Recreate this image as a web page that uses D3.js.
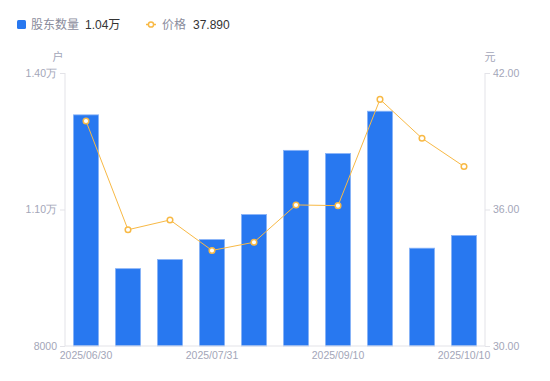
<!DOCTYPE html>
<html><head><meta charset="utf-8">
<script src="https://cdn.jsdelivr.net/npm/d3@7/dist/d3.min.js"></script>
<style>body{margin:0;background:#fff;}svg{display:block;font-family:"Liberation Sans",Arial,"Noto Sans CJK SC",sans-serif;}</style>
</head><body>
<script>
const categories = ["2025/06/30","2025/07/10","2025/07/20","2025/07/31","2025/08/20","2025/08/31","2025/09/10","2025/09/20","2025/09/30","2025/10/10"];
const holders = [13080, 9700, 9900, 10340, 10890, 12300, 12230, 13160, 10150, 10430];
const prices = [39.89, 35.11, 35.54, 34.20, 34.56, 36.20, 36.17, 40.84, 39.13, 37.89];
const xTickLabels = ["2025/06/30","2025/07/31","2025/09/10","2025/10/10"];
const leftTicks = [8000, 11000, 14000];
const rightTicks = [30, 36, 42];

const W = 550, H = 381;
const m = {l:65, r:65, t:73, b:35};
const svg = d3.select("body").append("svg").attr("width", W).attr("height", H);

const x = d3.scaleBand().domain(categories).range([m.l, W - m.r]).paddingInner(0.4).paddingOuter(0.2);
const yL = d3.scaleLinear().domain([8000, 14000]).range([H - m.b, m.t]);
const yR = d3.scaleLinear().domain([30, 42]).range([H - m.b, m.t]);

const axisColor = "#e3e3e8", textColor = "#a3a6b8";
const fmtL = v => v >= 10000 ? (v/10000).toFixed(2) + "万" : String(v);

// bars
svg.append("g").selectAll("rect").data(holders).join("rect")
  .attr("x", (d,i) => x(categories[i]))
  .attr("y", d => yL(d))
  .attr("width", x.bandwidth())
  .attr("height", d => yL(8000) - yL(d))
  .attr("fill", "#2878f0")
  .attr("stroke", "#8ab4f8").attr("stroke-width", 0.8);

// left axis
const gL = svg.append("g").attr("transform", `translate(${m.l},0)`)
  .call(d3.axisLeft(yL).tickValues(leftTicks).tickFormat(fmtL).tickSize(5).tickPadding(3));
// right axis
const gR = svg.append("g").attr("transform", `translate(${W - m.r},0)`)
  .call(d3.axisRight(yR).tickValues(rightTicks).tickFormat(d => d.toFixed(2)).tickSize(5).tickPadding(3));
// bottom axis
const gB = svg.append("g").attr("transform", `translate(0,${H - m.b})`)
  .call(d3.axisBottom(x).tickValues(xTickLabels).tickSize(0).tickPadding(6));

[gL, gR, gB].forEach(g => {
  g.select(".domain").attr("stroke", axisColor);
  g.selectAll(".tick line").attr("stroke", axisColor);
  g.selectAll(".tick text").attr("fill", textColor).style("font-size", "10.5px");
});
gL.select(".domain").attr("d", `M-0,${m.t}V${H - m.b}`);
gR.select(".domain").attr("d", `M0,${m.t}V${H - m.b}`);
gB.select(".domain").attr("d", `M${m.l},0H${W - m.r}`);

// units
svg.append("text").attr("x", 58).attr("y", 61).attr("text-anchor", "middle")
  .attr("fill", textColor).style("font-size", "11px").text("户");
svg.append("text").attr("x", 490).attr("y", 61).attr("text-anchor", "middle")
  .attr("fill", textColor).style("font-size", "11px").text("元");

// line
const line = d3.line().x((d,i) => x(categories[i]) + x.bandwidth()/2).y(d => yR(d));
svg.append("path").datum(prices).attr("d", line).attr("fill", "none")
  .attr("stroke", "#f8b945").attr("stroke-width", 1);
svg.append("g").selectAll("circle").data(prices).join("circle")
  .attr("cx", (d,i) => x(categories[i]) + x.bandwidth()/2)
  .attr("cy", d => yR(d)).attr("r", 2.8)
  .attr("fill", "#fff").attr("stroke", "#f8b945").attr("stroke-width", 1.5);

// legend
const lg = svg.append("g");
lg.append("rect").attr("x", 17).attr("y", 20).attr("width", 9).attr("height", 9).attr("rx", 1.5).attr("fill", "#2878f0");
lg.append("text").attr("x", 31).attr("y", 29).attr("fill", "#8a8c9c").style("font-size", "12px").text("股东数量");
lg.append("text").attr("x", 85).attr("y", 29).attr("fill", "#333").style("font-size", "12px").text(fmtL(holders[holders.length-1]));
lg.append("line").attr("x1", 146).attr("x2", 156).attr("y1", 24.5).attr("y2", 24.5).attr("stroke", "#f8b945").attr("stroke-width", 1.5);
lg.append("circle").attr("cx", 151).attr("cy", 24.5).attr("r", 2.6).attr("fill", "#fff").attr("stroke", "#f8b945").attr("stroke-width", 1.5);
lg.append("text").attr("x", 162).attr("y", 29).attr("fill", "#8a8c9c").style("font-size", "12px").text("价格");
lg.append("text").attr("x", 193).attr("y", 29).attr("fill", "#333").style("font-size", "12px").text(prices[prices.length-1].toFixed(3));
</script>
</body></html>
